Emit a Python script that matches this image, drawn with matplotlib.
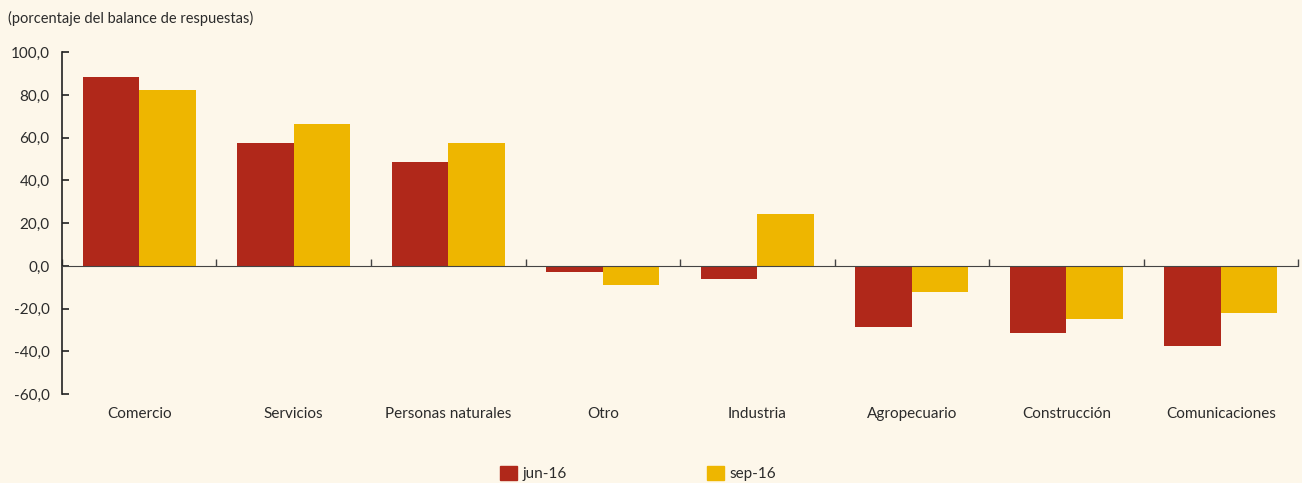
import numpy as np
import matplotlib.pyplot as plt
from matplotlib.patches import Patch
from matplotlib.ticker import FuncFormatter

# Categories and values (balance de respuestas, %)
categorias = ["Comercio", "Servicios", "Personas naturales", "Otro",
              "Industria", "Agropecuario", "Construcción", "Comunicaciones"]
jun_16 = [88.3, 57.3, 48.4, -2.8, -6.1, -28.6, -31.5, -37.6]
sep_16 = [82.2, 66.2, 57.3, -8.9, 24.4, -12.2, -24.9, -22.1]
y_ticks = [-60, -40, -20, 0, 20, 40, 60, 80, 100]

ROJO = "#B0281A"
AMARILLO = "#EEB600"
FONDO = "#FDF7EA"
TEXTO = "#2b2b2b"

plt.rcParams["font.family"] = ["Lato", "DejaVu Sans"]

fig = plt.figure(figsize=(13.02, 4.83), dpi=100, facecolor=FONDO)
ax = fig.add_axes([0.0476, 0.184, 0.9494, 0.708], facecolor=FONDO)

x = np.arange(len(categorias))
w = 0.365
ax.bar(x - w / 2, jun_16, w, color=ROJO, label="jun-16")
ax.bar(x + w / 2, sep_16, w, color=AMARILLO, label="sep-16")

ax.set_xlim(-0.5, len(categorias) - 0.5)
ax.set_ylim(-60, 100)

# spines: left axis plus a zero line with ticks between categories
for s in ["top", "right"]:
    ax.spines[s].set_visible(False)
ax.spines["bottom"].set_position(("data", 0))
ax.spines["bottom"].set_color("#444444")
ax.spines["left"].set_color("#222222")
ax.spines["left"].set_linewidth(1.2)

ax.set_yticks(y_ticks)
ax.yaxis.set_major_formatter(FuncFormatter(lambda v, p: f"{v:.1f}".replace(".", ",")))
ax.tick_params(axis="y", direction="in", length=5, width=1.2, color="#222222",
               labelsize=11, labelcolor=TEXTO, pad=9)

ax.set_xticks(np.arange(len(categorias) + 1) - 0.5)
ax.set_xticklabels([])
ax.tick_params(axis="x", direction="in", length=5, width=1, color="#444444")

# category names below the plot area
for xi, nombre in zip(x, categorias):
    ax.text(xi, -0.037, nombre, transform=ax.get_xaxis_transform(),
            ha="center", va="top", fontsize=11, color=TEXTO)

fig.text(0.006, 0.962, "(porcentaje del balance de respuestas)",
         ha="left", va="center", fontsize=10.5, color=TEXTO)

handles = [Patch(color=ROJO, label="jun-16"), Patch(color=AMARILLO, label="sep-16")]
fig.legend(handles=handles, loc="center left", bbox_to_anchor=(0.3735, 0.02),
           ncol=2, frameon=False, fontsize=11, handlelength=1.1, handleheight=1.1,
           handletextpad=0.35, columnspacing=9.2, labelcolor=TEXTO)

fig.savefig("out.png", dpi=100, facecolor=FONDO)
